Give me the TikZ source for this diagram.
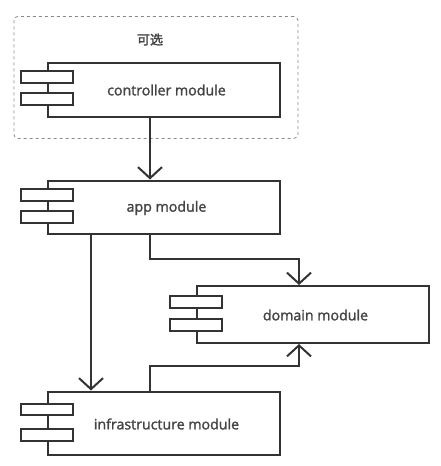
\documentclass[tikz,border=0pt]{standalone}
\usepackage{fontspec}
\setmainfont{Open Sans}
\newfontfamily\lblfont[RawFeature={embolden=1.6}]{Open Sans}
\newfontfamily\cjk[RawFeature={embolden=2}]{Noto Sans CJK SC}
\usetikzlibrary{arrows.meta,calc}
\definecolor{lineC}{HTML}{333333}
\definecolor{textC}{HTML}{444444}
\definecolor{dashC}{HTML}{8A8A8A}
\tikzset{
  x=1pt,y=-1pt,
  modbox/.style={draw=lineC,line width=2pt,fill=white,rectangle,inner sep=0pt,minimum width=232pt,anchor=north west},
  tabbox/.style={draw=lineC,line width=2pt,fill=white,rectangle,inner sep=0pt,minimum width=52pt,minimum height=11.5pt},
  lbl/.style={text=textC,font=\lblfont\fontsize{14.2}{16}\selectfont,inner sep=0pt},
  conn/.style={draw=lineC,line width=2pt,-{Straight Barb[length=11pt,width=24pt,line width=2pt]}},
}
\begin{document}
\begin{tikzpicture}
\useasboundingbox (0,0) rectangle (441,466);
\node[draw=dashC,dashed,line width=0.8pt,rounded corners=4pt,rectangle,inner sep=0pt,minimum width=284pt,minimum height=122pt,anchor=north west] (opt) at (13.5,16) {};
\node[lbl,font=\fontsize{13}{15}\selectfont] (optlabel) at (150,39.5) {\cjk 可选};

\node[modbox,minimum height=54pt] (ctrl) at (46.5,61.5) {};
\node[tabbox] (ctrlA) at (46.5,77) {};
\node[tabbox] (ctrlB) at (46.5,99) {};
\node[lbl] (ctrlT) at (166.5,90) {controller module};

\node[modbox,minimum height=53pt] (app) at (46.5,179.5) {};
\node[tabbox] (appA) at (46.5,195) {};
\node[tabbox] (appB) at (46.5,217) {};
\node[lbl] (appT) at (166.5,208) {app module};

\node[modbox,minimum height=57pt] (dom) at (195.5,285) {};
\node[tabbox] (domA) at (195.5,302) {};
\node[tabbox] (domB) at (195.5,325) {};
\node[lbl] (domT) at (315.5,315) {domain module};

\node[modbox,minimum height=63pt] (inf) at (46.5,390.5) {};
\node[tabbox] (infA) at (46.5,409.5) {};
\node[tabbox] (infB) at (46.5,435) {};
\node[lbl] (infT) at (166.5,424) {infrastructure module};

\coordinate (xM) at (150,0);
\coordinate (xL) at (91,0);
\coordinate (xD) at (299,0);
\coordinate (yU) at (0,259);
\coordinate (yB) at (0,366);

\draw[conn] (ctrl.south -| xM) -- (app.north -| xM);
\draw[conn] (app.south -| xL) -- (inf.north -| xL);
\draw[conn] (app.south -| xM) -- (xM |- yU) -- (xD |- yU) -- (dom.north -| xD);
\draw[conn] (inf.north -| xM) -- (xM |- yB) -- (xD |- yB) -- (dom.south -| xD);
\end{tikzpicture}
\end{document}
